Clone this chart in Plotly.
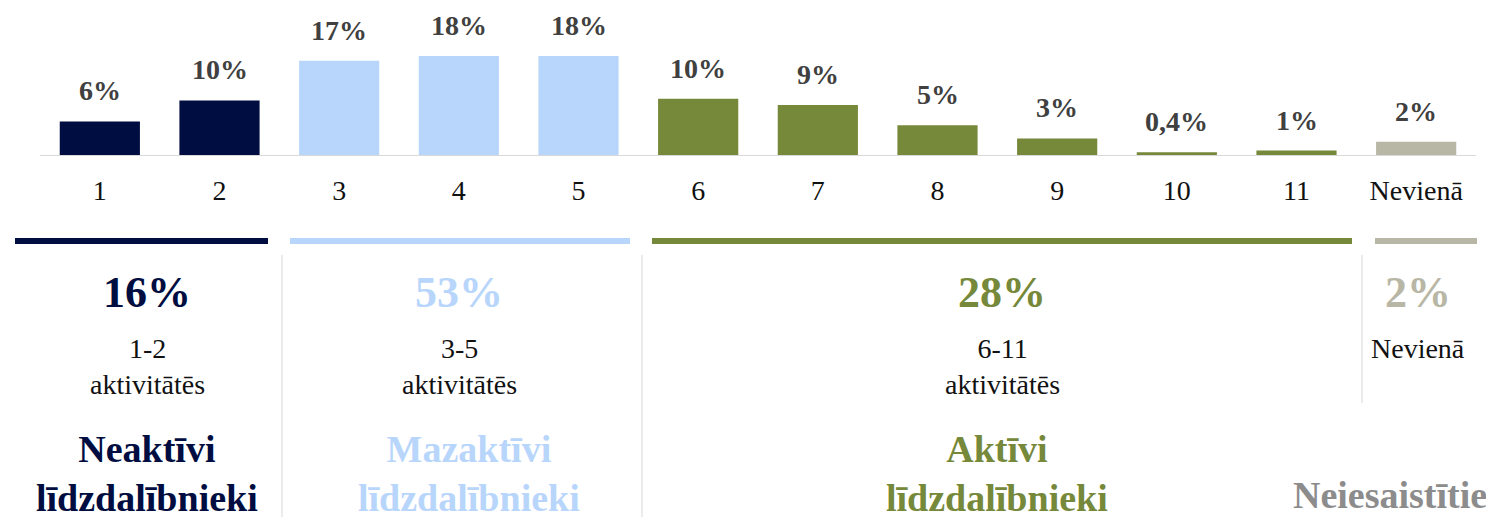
import plotly.graph_objects as go

# bar data
categories = ["1", "2", "3", "4", "5", "6", "7", "8", "9", "10", "11", "Nevienā"]
shares = [6.1, 9.9, 17.1, 18.0, 18.0, 10.2, 9.1, 5.4, 3.0, 0.5, 0.8, 2.4]
share_labels = ["6%", "10%", "17%", "18%", "18%", "10%", "9%", "5%", "3%", "0,4%", "1%", "2%"]

# groups
group_first = [0, 2, 5, 11]
group_last = [1, 4, 10, 11]
group_share = ["16%", "53%", "28%", "2%"]
group_range = ["1-2<br>aktivitātēs", "3-5<br>aktivitātēs", "6-11<br>aktivitātēs", "Nevienā"]
group_name = ["Neaktīvi<br>līdzdalībnieki", "Mazaktīvi<br>līdzdalībnieki",
              "Aktīvi<br>līdzdalībnieki", "Neiesaistītie"]

NAVY = "#000d40"
LIGHT = "#b8d6fb"
GREEN = "#76883a"
GREY = "#b8b7a5"
group_color = [NAVY, LIGHT, GREEN, GREY]
name_color = [NAVY, LIGHT, GREEN, "#8c8c8c"]

# page body adds an 8px margin, so the figure is a little smaller than the window
OFF = 8
W, H = 1494 - OFF, 517 - OFF
SERIF = "Liberation Serif"


def px(x):
    return (x - OFF) / W


def py(y):
    return 1 - (y - OFF) / H


bar_colors = []
for i in range(len(categories)):
    for g in range(len(group_first)):
        if group_first[g] <= i <= group_last[g]:
            bar_colors.append(group_color[g])

fig = go.Figure()
fig.add_trace(go.Bar(
    x=categories,
    y=shares,
    marker_color=bar_colors,
    marker_line_width=0,
    hoverinfo="skip",
))

annotations = []
for i, (v, t) in enumerate(zip(shares, share_labels)):
    annotations.append(dict(
        x=i, y=v, xref="x", yref="y", text=f"<b>{t}</b>", showarrow=False,
        xanchor="center", yanchor="bottom", yshift=13,
        font=dict(family=SERIF, size=28, color="#404040"),
    ))

# group summary text under the chart
share_x = [147, 459, 1002, 1418]
name_x = [147, 469, 997, 1390]
for g in range(len(group_share)):
    annotations.append(dict(
        x=px(share_x[g]), y=py(292), xref="paper", yref="paper",
        xanchor="center", yanchor="middle",
        text=f"<b>{group_share[g]}</b>", showarrow=False,
        font=dict(family=SERIF, size=44, color=group_color[g]),
    ))
    annotations.append(dict(
        x=px(share_x[g]), y=py(331), xref="paper", yref="paper",
        xanchor="center", yanchor="top",
        text=group_range[g], showarrow=False,
        font=dict(family=SERIF, size=28, color="#111111"),
    ))
    annotations.append(dict(
        x=px(name_x[g]), y=py(473 if g < 3 else 495), xref="paper", yref="paper",
        xanchor="center", yanchor="middle",
        text=f"<b>{group_name[g]}</b>", showarrow=False,
        font=dict(family=SERIF, size=38, color=name_color[g]),
    ))

# coloured group rules and thin separators
line_span = [(15, 268), (290, 630), (652, 1352), (1375, 1477)]
shapes = []
for g, (x0, x1) in enumerate(line_span):
    shapes.append(dict(
        type="line", xref="paper", yref="paper", x0=px(x0), x1=px(x1), y0=py(241), y1=py(241),
        line=dict(color=group_color[g], width=6),
    ))
for sx, sy in [(282, 517), (642, 517), (1362, 403)]:
    shapes.append(dict(
        type="line", xref="paper", yref="paper", x0=px(sx), x1=px(sx), y0=py(255), y1=py(sy),
        line=dict(color="#ebebeb", width=2),
    ))

fig.update_layout(
    width=W, height=H, autosize=False,
    margin=dict(l=0, r=0, t=0, b=0),
    paper_bgcolor="white", plot_bgcolor="white",
    showlegend=False, bargap=0.33,
    xaxis=dict(
        type="category", range=[-0.5, 11.5],
        domain=[px(40), px(1476)], showline=True, linecolor="#d9d9d9", linewidth=1,
        showgrid=False, ticks="", ticklabelstandoff=10,
        tickfont=dict(family=SERIF, size=28, color="#111111"),
    ),
    yaxis=dict(domain=[py(155), 1], range=[0, 26.7], visible=False),
    annotations=annotations,
    shapes=shapes,
)

fig.write_html("out.html")
